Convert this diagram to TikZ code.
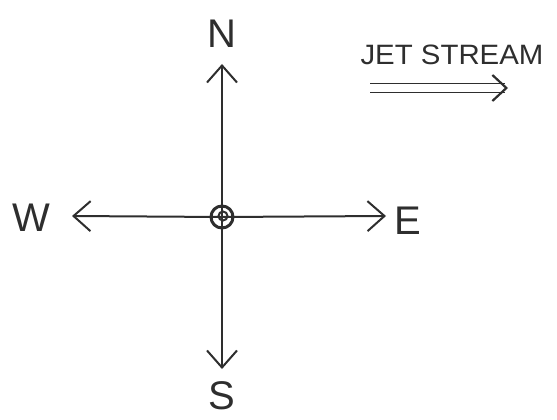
\documentclass[tikz,border=0pt]{standalone}
\usepackage{fontspec}
\setmainfont{Liberation Sans}
\usetikzlibrary{arrows.meta}
\definecolor{pen}{HTML}{2E2E2E}
\begin{document}
\begin{tikzpicture}[x=1pt,y=-1pt,
  penline/.style={draw=pen,line width=2pt,line cap=round},
  barb/.style={-{Straight Barb[length=17pt,width=30pt,line width=2pt]}},
  letter/.style={text=pen,font=\fontsize{40}{40}\selectfont,inner sep=0pt},
  label/.style={text=pen,font=\fontsize{28}{28}\selectfont,inner sep=0pt}]
\useasboundingbox (0,0) rectangle (557,420);
\coordinate (c) at (222,217);
\coordinate (ntip) at (222,64);
\coordinate (stip) at (222,369);
\coordinate (wtip) at (72,216);
\coordinate (etip) at (386,216);
\draw[penline,barb] (c) -- (ntip);
\draw[penline,barb] (c) -- (stip);
\draw[penline,barb] (c) -- (wtip);
\draw[penline,barb] (c) -- (etip);
\node[circle,draw=pen,line width=3pt,minimum size=22pt,inner sep=0pt] (hub) at (c) {};
\node[circle,draw=pen,line width=2pt,minimum size=9pt,inner sep=0pt] (hubin) at (223,216) {};
\node[letter] (N) at (222,34) {N};
\node[letter] (S) at (222,396) {S};
\node[letter] (W) at (31,218) {W};
\node[letter] (E) at (408,221) {E};
\node[label,xscale=1.05] (js) at (452,55) {JET STREAM};
\coordinate (jsa) at (370,88);
\coordinate (jsb) at (508,88);
\draw[pen,line width=1.8pt,double distance=7pt,-{Straight Barb[length=14pt,width=26pt,line width=2.2pt]}] (jsa) -- (jsb);
\end{tikzpicture}
\end{document}
